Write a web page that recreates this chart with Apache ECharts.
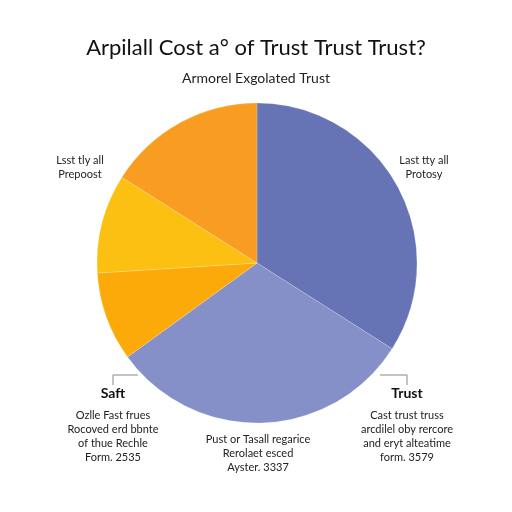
<!DOCTYPE html>
<html>
<head>
<meta charset="UTF-8">
<title></title>
<script src="https://cdn.jsdelivr.net/npm/echarts@6/dist/echarts.min.js"></script>
<style>
html, body { margin: 0; padding: 0; background: #fff; }
#main { width: 512px; height: 512px; }
</style>
</head>
<body>
<div id="main"></div>
<script type="text/javascript">
var titleText = 'Arpilall Cost a\u00b0 of Trust Trust Trust?';
var subText = 'Armorel Exgolated Trust';
var sliceNames = ['Protosy', 'Aysber', 'Saft', 'Prepost', 'Lsst tty all'];
var sliceValues = [34, 31, 9, 10, 16];
var sliceColors = ['#6674b5', '#8590c8', '#fbaa0a', '#fcc012', '#f89c22'];

var topLeftNote = ['Lsst tly all', 'Prepoost'];
var topRightNote = ['Last tty all', 'Protosy'];
var saftHead = 'Saft';
var saftNote = ['Ozlle Fast frues', 'Rocoved erd bbnte', 'of thue Rechle', 'Form. 2535'];
var trustHead = 'Trust';
var trustNote = ['Cast trust truss', 'arcdilel oby rercore', 'and eryt alteatime', 'form. 3579'];
var bottomNote = ['Pust or Tasall regarice', 'Rerolaet esced', 'Ayster. 3337'];

var font = 'Lato, "DejaVu Sans", sans-serif';

var chart = echarts.init(document.getElementById('main'));
var data = [];
for (var i = 0; i < sliceNames.length; i++) {
	data.push({ name: sliceNames[i], value: sliceValues[i], itemStyle: { color: sliceColors[i] } });
}

chart.setOption({
	animation: false,
	title: [{
		text: titleText,
		left: 'center',
		top: 32,
		textStyle: { fontFamily: font, fontSize: 22, fontWeight: 'normal', color: '#111' }
	}, {
		text: subText,
		left: 'center',
		top: 66,
		textStyle: { fontFamily: font, fontSize: 14, fontWeight: 'normal', color: '#222' }
	}],
	series: [{
		type: 'pie',
		center: [257, 263],
		radius: 160,
		startAngle: 90,
		clockwise: true,
		label: { show: false },
		labelLine: { show: false },
		itemStyle: { borderColor: 'rgba(255,255,255,0.35)', borderWidth: 0.5 },
		data: data
	}],
	graphic: [
		{ type: 'text', x: 80, y: 153, style: { text: topLeftNote.join('\n'), font: '11px ' + font, fill: '#222', align: 'center', lineHeight: 14 } },
		{ type: 'text', x: 424, y: 153, style: { text: topRightNote.join('\n'), font: '11px ' + font, fill: '#222', align: 'center', lineHeight: 14 } },
		{ type: 'polyline', shape: { points: [[113, 385], [113, 375], [138, 375]] }, style: { stroke: '#888', lineWidth: 1, fill: null } },
		{ type: 'polyline', shape: { points: [[407, 385], [407, 375], [380, 375]] }, style: { stroke: '#888', lineWidth: 1, fill: null } },
		{ type: 'text', x: 113, y: 386, style: { text: saftHead, font: 'bold 14px ' + font, fill: '#111', align: 'center' } },
		{ type: 'text', x: 407, y: 386, style: { text: trustHead, font: 'bold 14px ' + font, fill: '#111', align: 'center' } },
		{ type: 'text', x: 113, y: 408, style: { text: saftNote.join('\n'), font: '11px ' + font, fill: '#222', align: 'center', lineHeight: 14 } },
		{ type: 'text', x: 407, y: 408, style: { text: trustNote.join('\n'), font: '11px ' + font, fill: '#222', align: 'center', lineHeight: 14 } },
		{ type: 'text', x: 258, y: 432, style: { text: bottomNote.join('\n'), font: '11px ' + font, fill: '#222', align: 'center', lineHeight: 14 } }
	]
});
</script>
</body>
</html>
